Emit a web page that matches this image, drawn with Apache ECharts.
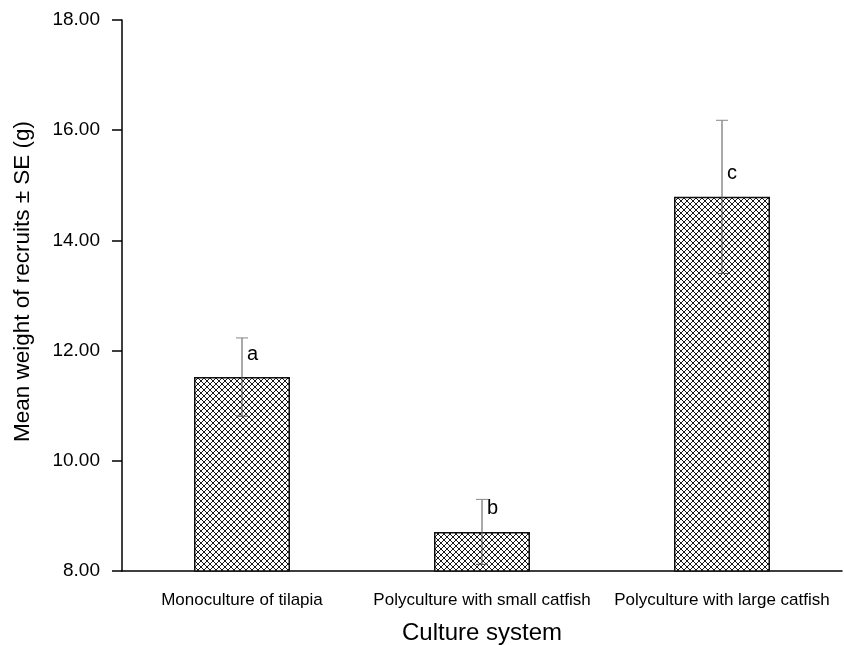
<!DOCTYPE html>
<html>
<head>
<meta charset="utf-8">
<script src="https://cdn.jsdelivr.net/npm/echarts@6/dist/echarts.min.js"></script>
<style>html,body{margin:0;padding:0;background:#fff;}#c{width:844px;height:645px;}</style>
</head>
<body>
<div id="c"></div>
<script>
const categories = ['Monoculture of tilapia', 'Polyculture with small catfish', 'Polyculture with large catfish'];
const means = [11.52, 8.71, 14.79];
const se = [0.71, 0.59, 1.39];
const letters = ['a', 'b', 'c'];
const yTicks = [8, 10, 12, 14, 16, 18];

const pc = document.createElement('canvas');
pc.width = 6; pc.height = 6;
const g = pc.getContext('2d');
g.fillStyle = '#fff'; g.fillRect(0, 0, 6, 6);
g.strokeStyle = '#1a1a1a'; g.lineWidth = 1;
g.beginPath();
g.moveTo(-1, -1); g.lineTo(7, 7);
g.moveTo(7, -1); g.lineTo(-1, 7);
g.stroke();

const font = 'Liberation Sans, Arial, Helvetica, sans-serif';
const chart = echarts.init(document.getElementById('c'));
chart.setOption({
  animation: false,
  backgroundColor: '#fff',
  grid: { left: 122, right: 2, top: 20, bottom: 74, outerBoundsMode: 'none', containLabel: false },
  xAxis: {
    type: 'category', data: categories,
    axisLine: { lineStyle: { color: '#000', width: 1.5 } },
    axisTick: { alignWithLabel: true, length: 8, lineStyle: { color: '#000', width: 1.5 } },
    axisLabel: { color: '#000', fontSize: 17, fontFamily: font, margin: 21, interval: 0 },
    name: 'Culture system', nameLocation: 'middle', nameGap: 50,
    nameTextStyle: { color: '#000', fontSize: 24, fontFamily: font }
  },
  yAxis: {
    type: 'value', min: yTicks[0], max: yTicks[yTicks.length - 1], interval: 2,
    axisLine: { show: true, lineStyle: { color: '#000', width: 1.5 } },
    axisTick: { show: true, length: 10, lineStyle: { color: '#000', width: 1.5 } },
    splitLine: { show: false },
    axisLabel: { color: '#000', fontSize: 19, fontFamily: font, margin: 22, formatter: v => v.toFixed(2) },
    name: 'Mean weight of recruits \u00b1 SE (g)', nameLocation: 'middle', nameGap: 88,
    nameTextStyle: { color: '#000', fontSize: 22.5, fontFamily: font, padding: [0, 0, 0, 28] }
  },
  series: [
    {
      type: 'bar', data: means, barWidth: '40%',
      itemStyle: { color: { image: pc, repeat: 'repeat' }, borderColor: '#111', borderWidth: 1.5 }
    },
    {
      type: 'custom',
      data: means.map((m, i) => [i, m - se[i], m + se[i], m]),
      renderItem: function (params, api) {
        const x = api.value(0);
        const lo = api.coord([x, api.value(1)]);
        const hi = api.coord([x, api.value(2)]);
        const top = api.coord([x, api.value(3)]);
        const w = 6;
        return {
          type: 'group',
          children: [
            { type: 'line', shape: { x1: hi[0], y1: hi[1], x2: lo[0], y2: lo[1] }, style: { stroke: '#555', lineWidth: 1 } },
            { type: 'line', shape: { x1: hi[0] - w, y1: hi[1], x2: hi[0] + w, y2: hi[1] }, style: { stroke: '#888', lineWidth: 1 } },
            { type: 'line', shape: { x1: lo[0] - w, y1: lo[1], x2: lo[0] + w, y2: lo[1] }, style: { stroke: '#555', lineWidth: 1 } },
            { type: 'text', style: { x: hi[0] + 5, y: top[1] - 23, text: letters[params.dataIndex], fill: '#000', font: '20px ' + font, verticalAlign: 'middle', align: 'left' } }
          ]
        };
      },
      z: 5
    }
  ]
});
</script>
</body>
</html>
